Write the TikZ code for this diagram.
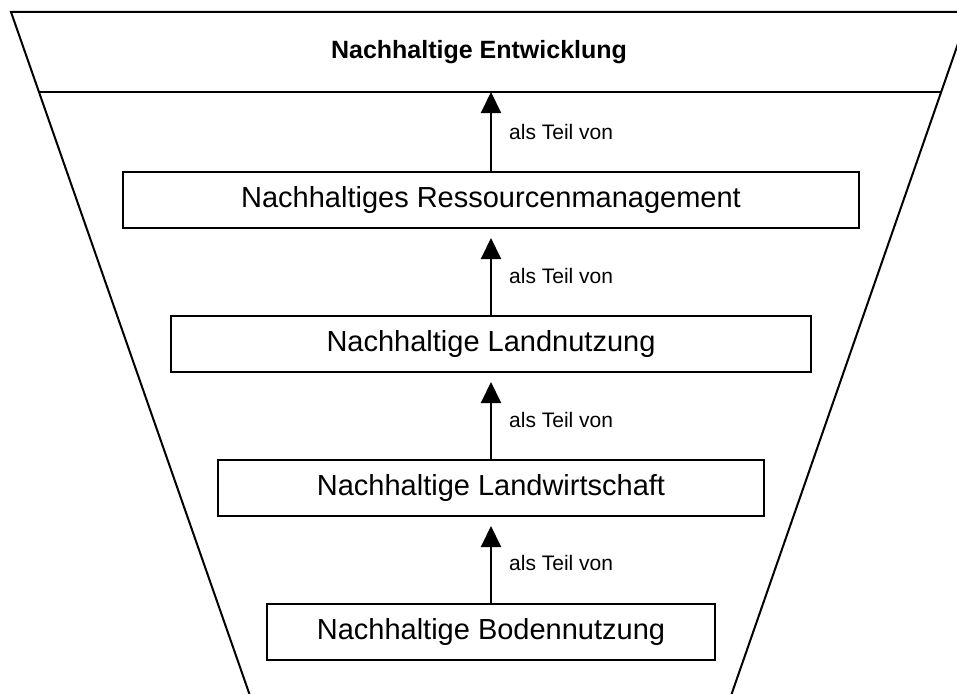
\documentclass[tikz,border=0pt]{standalone}
\usepackage{fontspec}
\setmainfont{Liberation Sans}
\usetikzlibrary{arrows.meta}
\begin{document}
\begin{tikzpicture}[x=1pt,y=-1pt,
  frame/.style={line width=2pt},
  box/.style={draw,line width=2pt,minimum height=56pt,inner sep=0pt,font=\fontsize{29}{32}\selectfont},
  arr/.style={line width=2pt,-{Triangle[width=20pt,length=21pt]}},
  lbl/.style={anchor=west,inner sep=0pt,font=\fontsize{21}{24}\selectfont},
  ttl/.style={inner sep=0pt,font=\fontsize{25}{28}\selectfont\bfseries}]
\useasboundingbox (0,0) rectangle (957,693);
\begin{scope}
\clip (0,0) rectangle (957,693);
\coordinate (tl) at (11,12);
\coordinate (tr) at (969,12);
\coordinate (bl) at (251.5,700);
\coordinate (br) at (729.5,700);
\coordinate (dl) at (39,92);
\coordinate (dr) at (941.2,92);
\draw[frame,line join=miter] (bl) -- (tl) -- (tr) -- (br);
\draw[frame] (dl) -- (dr);
\end{scope}
\node[ttl] (title) at (479,52) {Nachhaltige Entwicklung};
\node[box,minimum width=736pt] (b1) at (491,200) {Nachhaltiges Ressourcenmanagement};
\node[box,minimum width=640pt] (b2) at (491,344) {Nachhaltige Landnutzung};
\node[box,minimum width=546pt] (b3) at (491,488) {Nachhaltige Landwirtschaft};
\node[box,minimum width=448pt] (b4) at (491,632) {Nachhaltige Bodennutzung};
\coordinate (top) at (491,92);
\draw[arr] (b1.north) -- (top);
\draw[arr,shorten >=9pt] (b2.north) -- (b1.south);
\draw[arr,shorten >=9pt] (b3.north) -- (b2.south);
\draw[arr,shorten >=9pt] (b4.north) -- (b3.south);
\node[lbl] (l1) at (509,132) {als Teil von};
\node[lbl] (l2) at (509,276) {als Teil von};
\node[lbl] (l3) at (509,420) {als Teil von};
\node[lbl] (l4) at (509,563) {als Teil von};
\end{tikzpicture}
\end{document}
